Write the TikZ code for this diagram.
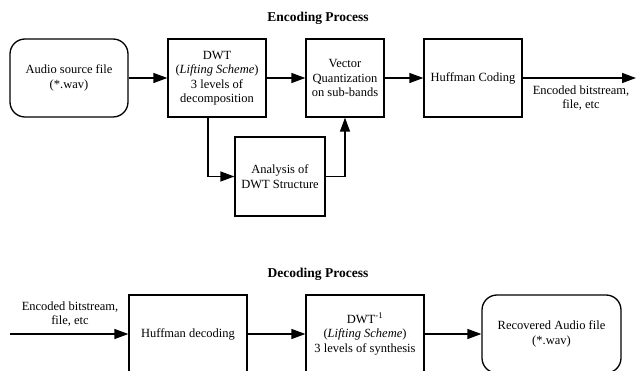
\documentclass[tikz,border=0pt]{standalone}
\usepackage{fontspec}
\setmainfont{Liberation Serif}
\usetikzlibrary{arrows.meta}

\begin{document}
\begin{tikzpicture}[x=1pt, y=-1pt,
    every node/.style={font=\rmfamily\fontsize{12.5}{14.5}\selectfont, align=center},
    blk/.style={draw, line width=1.3pt, inner sep=2pt},
    term/.style={blk, rounded corners=15pt},
    title/.style={font=\rmfamily\fontsize{13.5}{15}\selectfont\bfseries},
    flow/.style={line width=1.3pt, -{Triangle[length=14pt, width=10pt]}}]
    \useasboundingbox (0,0) rectangle (637,371);
    \clip (0,0) rectangle (637,371);

    % encoding
    \node[title] (enc) at (318,18) {Encoding Process};
    \node[term, minimum width=118pt, minimum height=78pt] (src) at (69,78) {Audio source file\\(*.wav)};
    \node[blk, minimum width=98pt, minimum height=78pt] (dwt) at (217,78) {DWT\\(\textit{Lifting Scheme})\\3 levels of\\decomposition};
    \node[blk, minimum width=78pt, minimum height=78pt] (vq) at (345,78) {Vector\\Quantization\\on sub-bands};
    \node[blk, minimum width=98pt, minimum height=78pt] (huf) at (473,78) {Huffman Coding};
    \node[blk, minimum width=90pt, minimum height=79pt] (ana) at (280,176.5) {Analysis of\\DWT Structure};
    \coordinate (out) at (636,78);
    \node (outlbl) at (581,98) {Encoded bitstream,\\file, etc};

    \draw[flow] (src) -- (dwt);
    \draw[flow] (dwt) -- (vq);
    \draw[flow] (vq) -- (huf);
    \draw[flow] (huf) -- (out);
    \draw[flow] ([xshift=-9pt]dwt.south) |- (ana.west);
    \draw[flow] (ana.east) -| (vq.south);

    % decoding
    \node[title] (dec) at (318,274) {Decoding Process};
    \coordinate (in) at (10,334);
    \node (inlbl) at (70,314) {Encoded bitstream,\\file, etc};
    \node[blk, minimum width=118pt, minimum height=78pt] (hdec) at (188,334) {Huffman decoding};
    \node[blk, minimum width=118pt, minimum height=78pt] (idwt) at (365,334) {DWT\textsuperscript{-1}\\(\textit{Lifting Scheme})\\3 levels of synthesis};
    \node[term, minimum width=139pt, minimum height=78pt] (rec) at (551.5,334) {Recovered Audio file\\(*.wav)};

    \draw[flow] (in) -- (hdec);
    \draw[flow] (hdec) -- (idwt);
    \draw[flow] (idwt) -- (rec);
\end{tikzpicture}
\end{document}
